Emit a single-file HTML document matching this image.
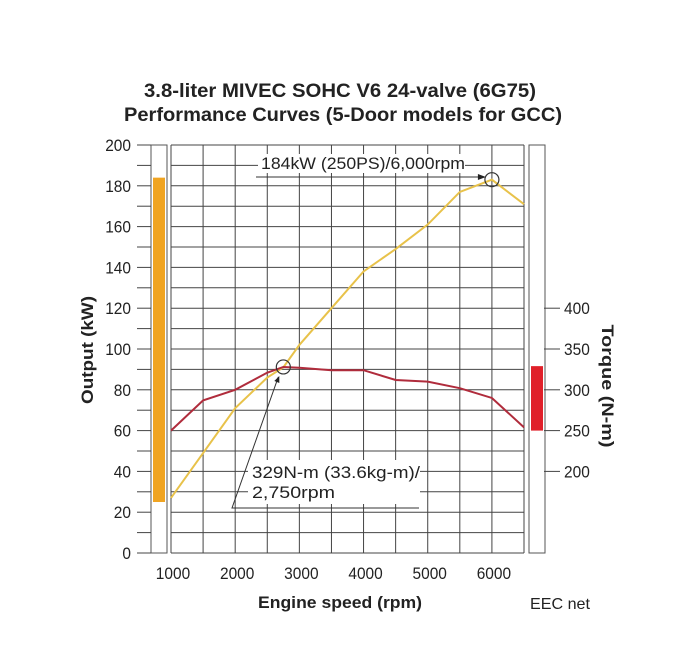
<!DOCTYPE html>
<html><head><meta charset="utf-8"><style>
body{margin:0;background:#fff;}
svg text{font-family:"Liberation Sans Narrow","Liberation Sans",sans-serif;fill:#222;}
</style></head><body>
<svg id="chart" width="700" height="661" viewBox="0 0 700 661" xmlns="http://www.w3.org/2000/svg">
<g>
<text x="340" y="97" text-anchor="middle" font-size="19" font-weight="bold" textLength="392" lengthAdjust="spacingAndGlyphs">3.8-liter MIVEC SOHC V6 24-valve (6G75)</text>
<text x="343" y="121" text-anchor="middle" font-size="19" font-weight="bold" textLength="438" lengthAdjust="spacingAndGlyphs">Performance Curves (5-Door models for GCC)</text>
</g>
<g id="grid"></g>
<g id="bars"></g>
<g id="axes"></g>
<g id="series"></g>
<g id="annot"></g>
<text x="340" y="608" text-anchor="middle" font-size="17" font-weight="bold" textLength="164" lengthAdjust="spacingAndGlyphs">Engine speed (rpm)</text>
<text x="560" y="609" text-anchor="middle" font-size="16" textLength="60" lengthAdjust="spacingAndGlyphs">EEC net</text>
<text transform="translate(93,350) rotate(-90)" text-anchor="middle" font-size="17" font-weight="bold" textLength="108" lengthAdjust="spacingAndGlyphs">Output (kW)</text>
<text transform="translate(602,386) rotate(90)" text-anchor="middle" font-size="17" font-weight="bold" textLength="123" lengthAdjust="spacingAndGlyphs">Torque (N-m)</text>
</svg>
<script>
const rpm = [1000,1500,2000,2500,2750,3000,3500,4000,4500,5000,5500,6000,6500];
const powerKW = [27,49,71,86,91,102,120,138,149,161,177,183,171];
const torqueNm = [250,287,300,321,328,327,324,324,312,310,302,290,254];
const xTicks = [1000,2000,3000,4000,5000,6000];
const yTicks = [0,20,40,60,80,100,120,140,160,180,200];
const torqueTicks = [200,250,300,350,400];
const powerRange = [25,184];
const torqueRange = [250,329];

const NS="http://www.w3.org/2000/svg";
const X0=171,X1=524,Y0=553,Y1=145;
const xs=r=>X0+(r-1000)*(X1-X0)/5500;
const ys=k=>Y0-k*(Y0-Y1)/200;
const yt=t=>ys(60+(t-250)*20/50);
function mk(p,tag,a){const e=document.createElementNS(NS,tag);for(const k in a)e.setAttribute(k,a[k]);p.appendChild(e);return e;}
const grid=document.getElementById('grid'),axes=document.getElementById('axes'),bars=document.getElementById('bars'),series=document.getElementById('series'),annot=document.getElementById('annot');
for(let k=0;k<=200;k+=10){
 const l=mk(grid,'line',{x1:X0,x2:X1,y1:ys(k),y2:ys(k),stroke:'#444','stroke-width':1});
 
 
 const t=mk(axes,'line',{x1:137,x2:151,y1:ys(k),y2:ys(k),stroke:'#444','stroke-width':1});
 
 
}
for(let r=1000;r<=6500;r+=500){
 const l=mk(grid,'line',{x1:xs(r),x2:xs(r),y1:Y1,y2:Y0,stroke:'#444','stroke-width':1});
 
 
}
const tl=s=>String(s).length*8.6;
yTicks.forEach(v=>{const t=mk(axes,'text',{x:131,y:ys(v)+6,'text-anchor':'end','font-size':17,textLength:tl(v),lengthAdjust:'spacingAndGlyphs'});t.textContent=v;
 
 });
xTicks.forEach(v=>{const t=mk(axes,'text',{x:xs(v)+2,y:579,'text-anchor':'middle','font-size':17,textLength:tl(v),lengthAdjust:'spacingAndGlyphs'});t.textContent=v;
 
 });
torqueTicks.forEach(v=>{
 const l=mk(axes,'line',{x1:544,x2:560,y1:yt(v),y2:yt(v),stroke:'#444','stroke-width':1});
 
 
 const t=mk(axes,'text',{x:564,y:yt(v)+6,'font-size':17,textLength:tl(v),lengthAdjust:'spacingAndGlyphs'});t.textContent=v;
 
 });
const ob=mk(bars,'rect',{x:153,y:ys(powerRange[1]),width:12,height:ys(powerRange[0])-ys(powerRange[1]),fill:'#f0a422'});


const rb=mk(bars,'rect',{x:531,y:yt(torqueRange[1]),width:12,height:yt(torqueRange[0])-yt(torqueRange[1]),fill:'#e0202a'});


[[151,167],[529,545]].forEach(p=>{const f=mk(bars,'rect',{x:p[0],y:Y1,width:p[1]-p[0],height:Y0-Y1,fill:'none',stroke:'#555','stroke-width':1});
 
 });
const pp=mk(series,'polyline',{points:rpm.map((r,i)=>xs(r)+','+ys(powerKW[i])).join(' '),fill:'none',stroke:'#e8c24a','stroke-width':2});


const tp=mk(series,'polyline',{points:rpm.map((r,i)=>xs(r)+','+yt(torqueNm[i])).join(' '),fill:'none',stroke:'#b02c3c','stroke-width':2});


const pi=powerKW.indexOf(Math.max(...powerKW)),ti=torqueNm.indexOf(Math.max(...torqueNm));
const px=xs(rpm[pi]),py=ys(powerKW[pi]),tx=xs(rpm[ti]),ty=yt(torqueNm[ti]);
const b1=mk(annot,'rect',{x:258,y:154,width:207,height:19,fill:'#fff'});


const t1=mk(annot,'text',{x:261,y:169,'font-size':17,textLength:204,lengthAdjust:'spacingAndGlyphs'});t1.textContent='184kW (250PS)/6,000rpm';


const a1=mk(annot,'path',{d:`M256 177 L${px-8} 177`,stroke:'#333','stroke-width':1,fill:'none'});


mk(annot,'path',{d:`M${px-6} 177 l-8 -3 l0 6 z`,fill:'#222'});
const c1=mk(annot,'circle',{cx:px,cy:py,r:7,fill:'none',stroke:'#333','stroke-width':1.2});


const b2=mk(annot,'rect',{x:248,y:460,width:172,height:44,fill:'#fff'});


const t2=mk(annot,'text',{x:252,y:478,'font-size':17,textLength:168,lengthAdjust:'spacingAndGlyphs'});t2.textContent='329N-m (33.6kg-m)/';


const t3=mk(annot,'text',{x:252,y:498,'font-size':17,textLength:83,lengthAdjust:'spacingAndGlyphs'});t3.textContent='2,750rpm';


const a2=mk(annot,'path',{d:`M419 508 L232 508 L${tx-5} ${ty+10}`,stroke:'#333','stroke-width':1,fill:'none'});


mk(annot,'path',{d:`M${tx-4} ${ty+9} l-5 5 l5 2 z`,fill:'#222'});
const c2=mk(annot,'circle',{cx:tx,cy:ty,r:7,fill:'none',stroke:'#333','stroke-width':1.2});


</script>
</body></html>
